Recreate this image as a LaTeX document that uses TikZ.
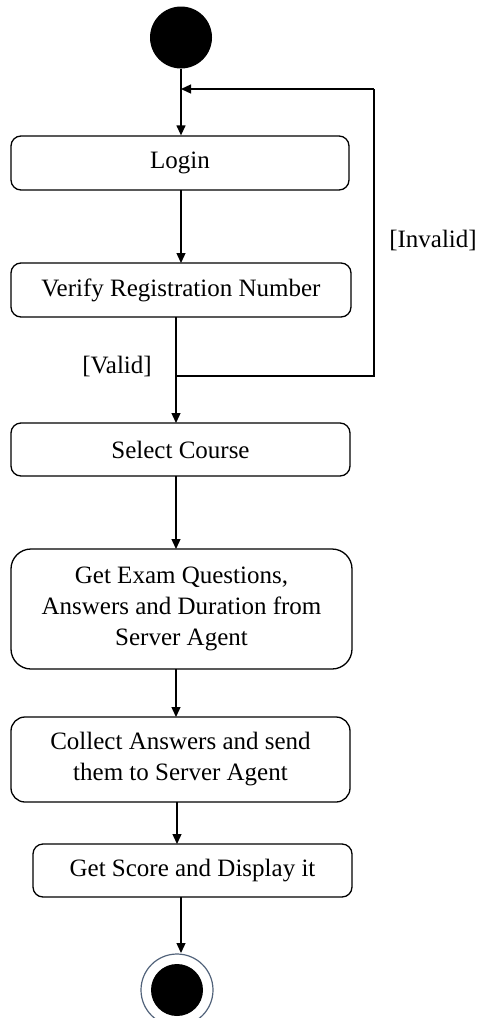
\documentclass[tikz,border=0pt]{standalone}
\usepackage{fontspec}
\setmainfont{Liberation Serif}
\usetikzlibrary{arrows.meta}
\definecolor{ringblue}{HTML}{51627A}
\tikzset{
  activity/.style={draw=black, line width=1.3pt, rounded corners=10pt, align=center,
    inner sep=0pt, font=\fontsize{25}{31}\selectfont},
  flow/.style={draw=black, line width=1.3pt, -{Triangle[length=10pt,width=9pt]}},
  edge/.style={draw=black, line width=1.3pt},
  guard/.style={font=\fontsize{25}{31}\selectfont, inner sep=0pt},
}
\begin{document}
\begin{tikzpicture}[x=1pt, y=-1pt]
  \useasboundingbox (0,0) rectangle (480,1018);

  % initial state
  \node[circle, fill=black, minimum size=62pt, inner sep=0pt] (start) at (181,37.5) {};

  % activities
  \node[activity, minimum width=338pt, minimum height=54pt] (login) at (180,163) {Login};
  \node[activity, minimum width=340pt, minimum height=54pt] (verify) at (181,290) {Verify Registration Number};
  \node[activity, minimum width=339pt, minimum height=53pt] (course) at (180.5,449.5) {Select Course};
  \node[activity, rounded corners=20pt, minimum width=341pt, minimum height=120pt] (exam) at (181.5,609)
    {Get Exam Questions,\\Answers and Duration from\\Server Agent};
  \node[activity, rounded corners=14pt, minimum width=339pt, minimum height=85pt] (collect) at (180.5,759.5)
    {Collect Answers and send\\them to Server Agent};
  \node[activity, minimum width=319pt, minimum height=53pt] (score) at (192.5,870.5) {Get Score and Display it};

  % final state
  \node[circle, draw=ringblue, line width=1.2pt, minimum size=72pt, inner sep=0pt] (final) at (177,990) {};
  \node[circle, fill=black, minimum size=52pt, inner sep=0pt] (finalcore) at (177,990) {};

  % decision branch points
  \coordinate (merge) at (181,89);
  \coordinate (split) at (176,376);
  \coordinate (loopbottom) at (374,376);
  \coordinate (looptop) at (374,89);

  % flows
  \draw[flow] (start.south) -- (start.south |- login.north);
  \draw[flow] (181,190) -- (181,263);
  \draw[edge] (176,317) -- (split);
  \draw[flow] (split) -- (176,423);
  \draw[edge] (split) -- (loopbottom) -- (looptop);
  \draw[flow] (looptop) -- (merge);
  \draw[flow] (176,476) -- (176,549);
  \draw[flow] (176,669) -- (176,717);
  \draw[flow] (177,802) -- (177,844);
  \draw[flow] (181,897) -- (181,953);

  % guards
  \node[guard] (valid) at (117,366) {[Valid]};
  \node[guard] (invalid) at (433,240) {[Invalid]};
\end{tikzpicture}
\end{document}
